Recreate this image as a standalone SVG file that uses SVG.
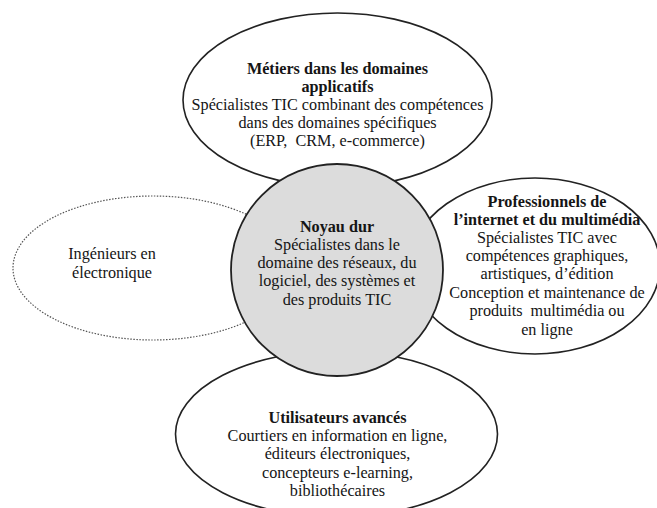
<svg xmlns="http://www.w3.org/2000/svg" width="657" height="508" viewBox="0 0 657 508">
<style>
.sh{fill:#fff;stroke:#222;stroke-width:1.6}
.dot{fill:#fff;stroke:#555;stroke-width:1.2;stroke-dasharray:1.5 1.5}
.core{fill:#dcdcdc;stroke:#222;stroke-width:1.8}
text{font-family:"Liberation Serif","Times New Roman",serif;font-size:16.2px;fill:#151515;text-anchor:middle}
.b{font-weight:bold}
</style>
<rect width="657" height="508" fill="#fff"/>
<g id="connectors"></g>
<g id="top">
<ellipse class="sh" cx="337.5" cy="100" rx="154.5" ry="87"/>
<text x="337.5" y="74" class="b">Métiers dans les domaines</text>
<text x="337.5" y="92" class="b">applicatifs</text>
<text x="337.5" y="110">Spécialistes TIC combinant des compétences</text>
<text x="337.5" y="128">dans des domaines spécifiques</text>
<text x="337.5" y="146">(ERP,&#160; CRM, e-commerce)</text>
</g>
<g id="left">
<ellipse class="dot" cx="153" cy="268" rx="140" ry="72"/>
<text x="112" y="259">Ingénieurs en</text>
<text x="112" y="278">électronique</text>
</g>
<g id="right">
<ellipse class="sh" cx="535" cy="266" rx="125" ry="88"/>
<text x="547" y="207" class="b">Professionnels de</text>
<text x="547" y="225" class="b">l’internet et du multimédia</text>
<text x="547" y="243">Spécialistes TIC avec</text>
<text x="547" y="261">compétences graphiques,</text>
<text x="547" y="279">artistiques, d’édition</text>
<text x="547" y="298">Conception et maintenance de</text>
<text x="547" y="316">produits&#160; multimédia ou</text>
<text x="547" y="335">en ligne</text>
</g>
<g id="bottom">
<ellipse class="sh" cx="336.5" cy="434" rx="161" ry="83"/>
<text x="337.5" y="423" class="b">Utilisateurs avancés</text>
<text x="337.5" y="441">Courtiers en information en ligne,</text>
<text x="337.5" y="459">éditeurs électroniques,</text>
<text x="337.5" y="478">concepteurs e-learning,</text>
<text x="337.5" y="496">bibliothécaires</text>
</g>
<g id="core">
<circle class="core" cx="337" cy="270" r="106"/>
<text x="337" y="232" class="b">Noyau dur</text>
<text x="337" y="250">Spécialistes dans le</text>
<text x="337" y="268">domaine des réseaux, du</text>
<text x="337" y="286">logiciel, des systèmes et</text>
<text x="337" y="305">des produits TIC</text>
</g>
</svg>
